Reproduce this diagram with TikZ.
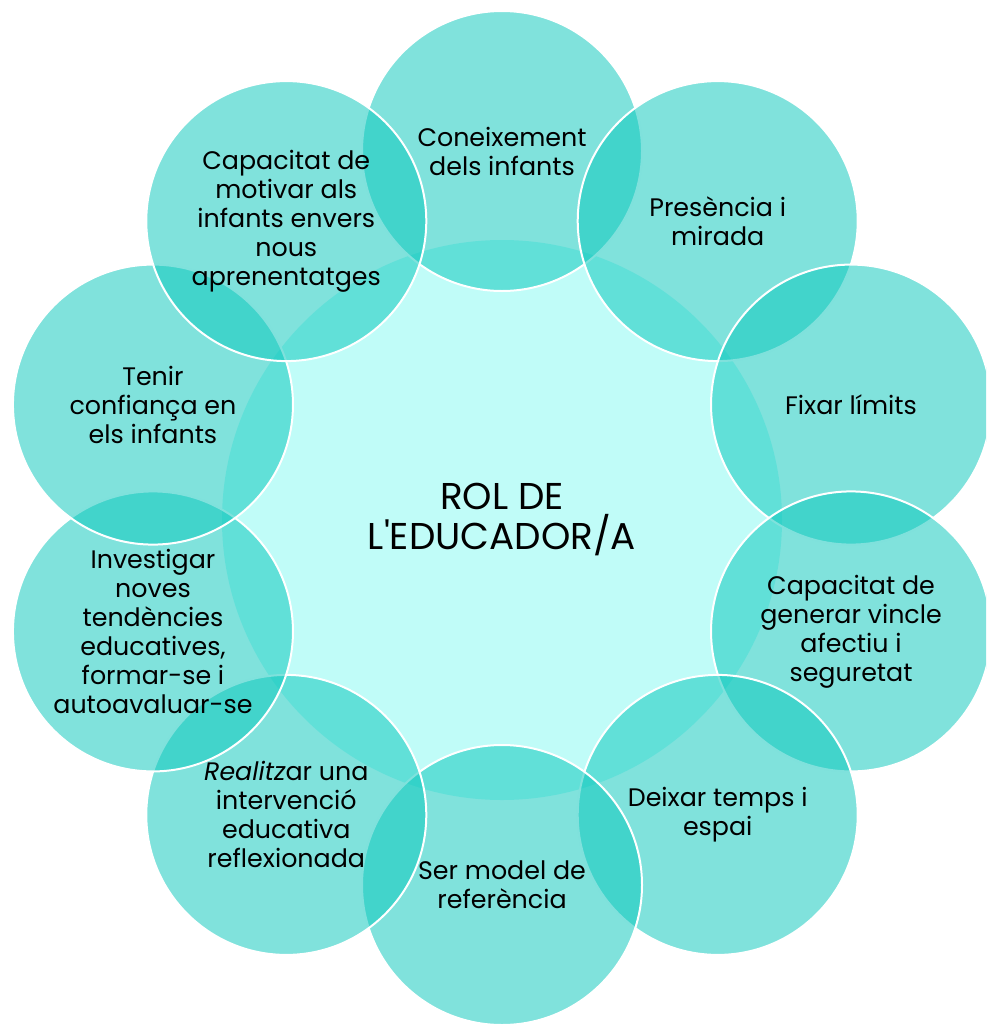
\documentclass[tikz,border=0pt]{standalone}
\usepackage{fontspec}
\setmainfont{Poppins}[Ligatures=TeXOff]
\definecolor{hubfill}{HTML}{C0FCF8}
\definecolor{petalfill}{HTML}{0BC7BC}

\begin{document}
\begin{tikzpicture}[x=0.75pt, y=-0.75pt,
    hub/.style={circle, fill=hubfill, minimum size=420pt, inner sep=0pt,
        align=center, font=\fontsize{28}{30}\selectfont},
    petal/.style={circle, draw=white, line width=1.5pt, fill=petalfill,
        fill opacity=0.52, minimum size=210pt, inner sep=0pt},
    petaltext/.style={align=center, font=\fontsize{19}{21.75}\selectfont}]
    \useasboundingbox (0,0) rectangle (986,1028);
    \clip (0,0) rectangle (986,1028);
    % centre
    \node[hub] (hub) at (502,520) {ROL DE\\L'EDUCADOR/A};
    % ring, clockwise from the top
    \begin{scope}[shift={(502,518)}]
	\foreach \i/\a in {1/270, 2/306, 3/342, 4/18, 5/54,
	    6/90, 7/126, 8/162, 9/198, 10/234}
	    \node[petal] (p\i) at (\a:367) {};
    \end{scope}
    \foreach \i/\t in {1/{Coneixement\\dels infants},
	2/{Presència i\\mirada},
	3/{Fixar límits},
	4/{Capacitat de\\generar vincle\\afectiu i\\seguretat},
	5/{Deixar temps i\\espai},
	6/{Ser model de\\referència},
	7/{{\itshape Realitz}ar una\\intervenció\\educativa\\reflexionada},
	8/{Investigar\\noves\\tendències\\educatives,\\formar-se i\\autoavaluar-se},
	9/{Tenir\\confiança en\\els infants},
	10/{Capacitat de\\motivar als\\infants envers\\nous\\aprenentatges}}
	\node[petaltext] (t\i) at (p\i) {\t};
\end{tikzpicture}
\end{document}
